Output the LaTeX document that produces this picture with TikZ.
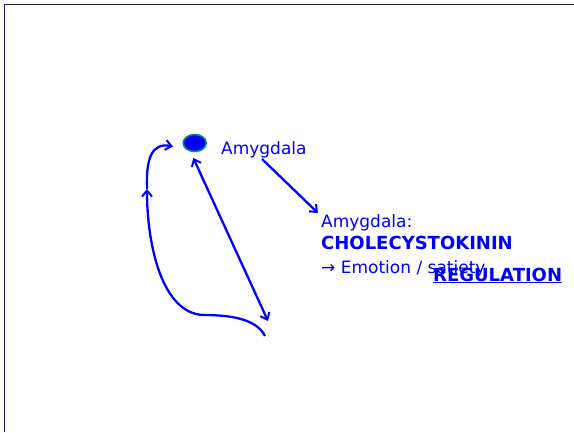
\documentclass[tikz,border=0pt]{standalone}
\usepackage{fontspec}
\setmainfont{DejaVu Sans}
\usetikzlibrary{arrows.meta,shapes.geometric}
\definecolor{pblue}{RGB}{0,0,255}
\definecolor{pteal}{RGB}{0,140,110}
\definecolor{frameL}{RGB}{25,25,90}
\definecolor{frameT}{RGB}{40,40,40}
\tikzset{
  conn/.style={draw=pblue, line width=2.3pt},
  barb/.tip={Straight Barb[length=6pt,width=10pt,line width=2pt]},
  tip/.style={-barb},
  lbl/.style={text=pblue, inner sep=0pt, anchor=base west, font=\fontsize{17}{20}\selectfont},
  blbl/.style={lbl, font=\fontsize{18}{21}\selectfont\bfseries},
}
\begin{document}
\begin{tikzpicture}[x=1pt,y=-1pt]
\useasboundingbox (0,0) rectangle (574,432);
% frame
\draw[frameT, line width=1.5pt] (4,4.5) -- (574,4.5);
\draw[frameL, line width=1.5pt] (4.5,4) -- (4.5,432);
% amygdala blob
\node (amyg) [ellipse, draw=pteal, fill=pblue, line width=1.6pt, minimum width=23pt, minimum height=17pt, inner sep=0pt] at (194.7,143) {};
% texts
\node (lab) [lbl] at (221,154) {Amygdala};
\node (t1) [lbl] at (321,227) {Amygdala:};
\node (t2) [blbl] at (321,249) {CHOLECYSTOKININ};
\node (t3) [lbl] at (321,273) {→ Emotion / satiety};
\node (t4) [blbl] at (433,281) {\underline{REGULATION}};
% connector coordinates
\coordinate (a1) at (262,159);
\coordinate (a2) at (318,213);
\coordinate (d1) at (193.3,158);
\coordinate (d2) at (268,321);
\coordinate (c0) at (265,336);
\coordinate (c1) at (203,315);
\coordinate (c2) at (147,189);
\coordinate (c3) at (173,146.5);
% connectors
\draw[conn, tip] (a1) -- (a2);
\draw[conn, barb-barb] (d1) -- (d2);
\draw[conn, tip] (c0) .. controls (256,318) and (228,315) .. (c1) .. controls (162,313) and (147,245) .. (c2);
\draw[conn, tip] (c2) .. controls (146,160) and (151,142) .. (c3);
\end{tikzpicture}
\end{document}
